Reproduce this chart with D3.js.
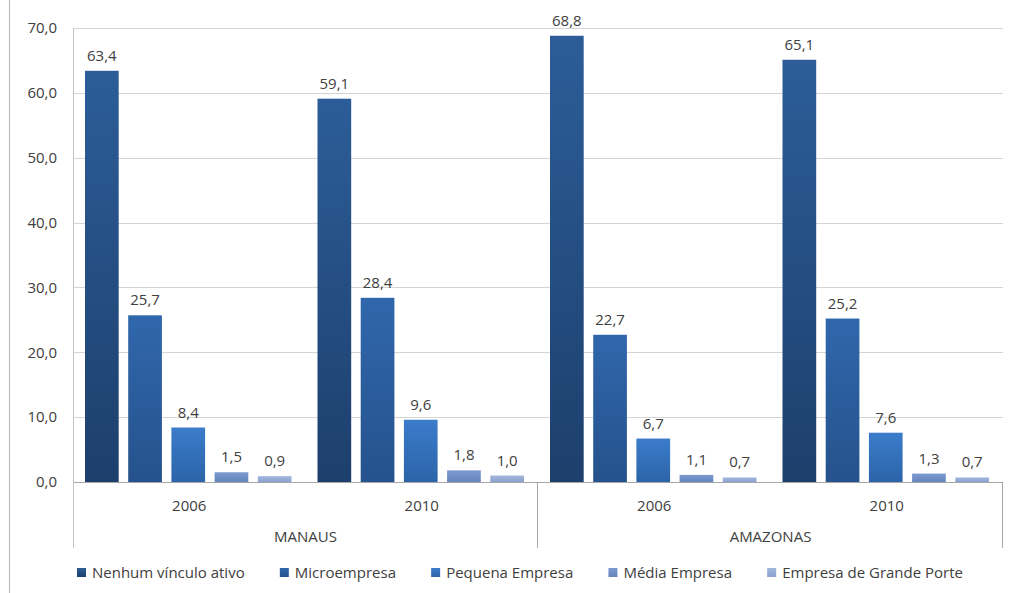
<!DOCTYPE html>
<html lang="pt">
<head>
<meta charset="UTF-8">
<title>Vínculo por porte de empresa</title>
<script src="https://d3js.org/d3.v7.min.js"></script>
<style>
  body { margin: 0; background: #fff; }
  svg text { font-family: "Open Sans", "Noto Sans", sans-serif; fill: #404040; }
</style>
</head>
<body>
<div id="chart"></div>
<script>
// data
const regions = ["MANAUS", "AMAZONAS"];
const years = ["2006", "2010"];
const seriesNames = ["Nenhum vínculo ativo", "Microempresa", "Pequena Empresa", "Média Empresa", "Empresa de Grande Porte"];
// one array per series, order: Manaus 2006, Manaus 2010, Amazonas 2006, Amazonas 2010
const nenhum = [63.4, 59.1, 68.8, 65.1];
const micro = [25.7, 28.4, 22.7, 25.2];
const pequena = [8.4, 9.6, 6.7, 7.6];
const media = [1.5, 1.8, 1.1, 1.3];
const grande = [0.9, 1.0, 0.7, 0.7];
const yTicks = [0, 10, 20, 30, 40, 50, 60, 70];

const seriesValues = [nenhum, micro, pequena, media, grande];
const colors = [
  ["#2C5D98", "#1D3F6C"],
  ["#3067AC", "#25528C"],
  ["#3B7CCB", "#2C64A8"],
  ["#7D9BD0", "#6584BC"],
  ["#A3B7DE", "#8BA2CF"]
];

const W = 1016, H = 593;
const plot = {left: 73, right: 1003, top: 28, bottom: 482};
const fs = "15px";

const svg = d3.select("#chart").append("svg")
  .attr("width", W).attr("height", H);

const defs = svg.append("defs");
colors.forEach((c, i) => {
  const g = defs.append("linearGradient").attr("id", "grad" + i)
    .attr("x1", 0).attr("y1", 0).attr("x2", 0).attr("y2", 1);
  g.append("stop").attr("offset", "0%").attr("stop-color", c[0]);
  g.append("stop").attr("offset", "100%").attr("stop-color", c[1]);
});

// outer frame line on the left
svg.append("line").attr("x1", 9.5).attr("x2", 9.5).attr("y1", 0).attr("y2", H)
  .attr("stroke", "#b5b5b5");

const groups = [];
regions.forEach(r => years.forEach(y => groups.push(r + "|" + y)));

const x0 = d3.scaleBand().domain(groups).range([plot.left, plot.right]);
const x1 = d3.scaleBand().domain(d3.range(seriesNames.length))
  .range([12, x0.bandwidth() - 14]).paddingInner(0.22);
const y = d3.scaleLinear().domain([0, 70]).range([plot.bottom, plot.top]);

const fmt = v => d3.format(".1f")(v).replace(".", ",");

// gridlines
svg.append("g").selectAll("line").data(yTicks.slice(1)).join("line")
  .attr("x1", plot.left).attr("x2", plot.right)
  .attr("y1", d => Math.round(y(d)) + 0.5).attr("y2", d => Math.round(y(d)) + 0.5)
  .attr("stroke", "#d4d4d4");

// y axis labels
const yAxis = svg.append("g").attr("transform", `translate(${plot.left},0)`)
  .call(d3.axisLeft(y).tickValues(yTicks).tickFormat(fmt).tickSize(0).tickPadding(16));
yAxis.select(".domain").remove();
yAxis.selectAll("text").style("font-size", fs).attr("fill", "#404040");

// bars
const barG = svg.append("g");
groups.forEach((gname, gi) => {
  seriesValues.forEach((vals, si) => {
    const v = vals[gi];
    const bx = x0(gname) + x1(si);
    barG.append("rect")
      .attr("x", bx).attr("width", x1.bandwidth())
      .attr("y", y(v)).attr("height", y(0) - y(v))
      .attr("fill", `url(#grad${si})`);
    barG.append("text")
      .attr("x", bx + x1.bandwidth() / 2).attr("y", y(v) - 10)
      .attr("text-anchor", "middle").style("font-size", fs)
      .text(fmt(v));
  });
});

// category axis
const axisCol = "#a6a6a6";
svg.append("line").attr("x1", plot.left).attr("x2", plot.right)
  .attr("y1", plot.bottom + 0.5).attr("y2", plot.bottom + 0.5).attr("stroke", axisCol);
svg.append("line").attr("x1", plot.left + 0.5).attr("x2", plot.left + 0.5)
  .attr("y1", plot.top).attr("y2", 548).attr("stroke", "#c4c4c4");
const regionBand = d3.scaleBand().domain(regions).range([plot.left, plot.right]);
regions.forEach((r, i) => {
  const xr = regionBand(r) + regionBand.bandwidth();
  svg.append("line").attr("x1", Math.round(xr) - 0.5).attr("x2", Math.round(xr) - 0.5)
    .attr("y1", plot.bottom).attr("y2", 548).attr("stroke", axisCol);
  svg.append("text").attr("x", regionBand(r) + regionBand.bandwidth() / 2).attr("y", 542)
    .attr("text-anchor", "middle").style("font-size", fs).text(r);
});
groups.forEach(g => {
  svg.append("text").attr("x", x0(g) + x0.bandwidth() / 2).attr("y", 511)
    .attr("text-anchor", "middle").style("font-size", fs).text(g.split("|")[1]);
});

// legend, spread between x=77 and x=963 like the original
const legend = svg.append("g").attr("transform", "translate(0,578)");
const items = seriesNames.map((name, i) => {
  const item = legend.append("g");
  item.append("rect").attr("x", 0).attr("y", -10).attr("width", 9).attr("height", 9)
    .attr("fill", `url(#grad${i})`);
  const t = item.append("text").attr("x", 15).attr("y", 0).style("font-size", fs).text(name);
  return {item, w: 15 + t.node().getComputedTextLength()};
});
const totalW = d3.sum(items, d => d.w);
const gap = (963 - 77 - totalW) / (items.length - 1);
let lx = 77;
items.forEach(d => {
  d.item.attr("transform", `translate(${lx},0)`);
  lx += d.w + gap;
});
</script>
</body>
</html>
